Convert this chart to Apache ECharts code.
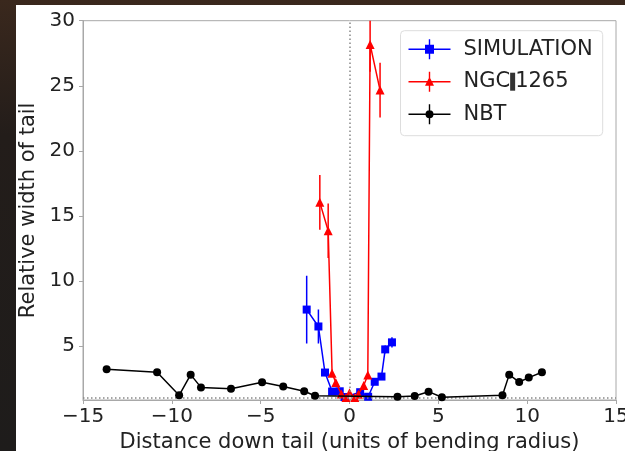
<!DOCTYPE html>
<html>
<head>
<meta charset="utf-8">
<script src="https://cdn.jsdelivr.net/npm/echarts@6/dist/echarts.min.js"></script>
<style>
  html, body {
    margin: 0;
    padding: 0;
    width: 625px;
    height: 451px;
    overflow: hidden;
    background: linear-gradient(180deg, #3a281d 0%, #231d1a 30%, #1e1c1b 100%);
  }
  #chart {
    position: absolute;
    left: 16px;
    top: 5px;
    width: 609px;
    height: 446px;
    background: #fff;
  }
</style>
</head>
<body>
<div id="chart"></div>
<script>
// values
const simX = [-2.41, -1.75, -1.38, -0.98, -0.55, -0.28, 0.6, 1.05, 1.42, 1.8, 2.01, 2.39]
const simY = [7.8, 6.5, 2.96, 1.5, 1.52, 1.08, 1.45, 1.1, 2.25, 2.65, 4.74, 5.28]
const simErr = [2.6, 1.3, 0.2, 0.1, 0.1, 0.1, 0.1, 0.1, 0.2, 0.2, 0.3, 0.4]

const ngcX = [-1.67, -1.2, -0.98, -0.77, -0.46, -0.2, 0, 0.3, 0.5, 0.8, 1.03, 1.16, 1.72]
const ngcY = [16.04, 13.86, 2.9, 2.2, 1.32, 1.05, 1.4, 1.05, 1.3, 1.97, 2.77, 28.18, 24.67]
const ngcErr = [2.1, 2.1, 0.1, 0.1, 0.1, 0.1, 0.1, 0.1, 0.1, 0.1, 0.1, 2.1, 2.1]

const nbtX = [-13.67, -10.83, -9.59, -8.94, -8.36, -6.67, -4.92, -3.73, -2.55, -1.94, 2.7, 3.67, 4.45, 5.2, 8.61, 8.99, 9.55, 10.09, 10.83]
const nbtY = [3.21, 2.98, 1.21, 2.8, 1.82, 1.72, 2.21, 1.88, 1.52, 1.18, 1.1, 1.16, 1.49, 1.06, 1.21, 2.8, 2.23, 2.57, 2.98]
const nbtErr = [0.1, 0.1, 0.1, 0.1, 0.1, 0.1, 0.1, 0.1, 0.1, 0.1, 0.1, 0.1, 0.1, 0.1, 0.1, 0.1, 0.1, 0.1, 0.1]

const yTicks = [5, 10, 15, 20, 25, 30]

const FONT = "'DejaVu Sans', sans-serif"
const TEXT = '#222'
const SPINE = '#a8a8a8'

// legend icons: line + error bar + marker, in a 42x20 box
const bar = 'M0,9.25 L42,9.25 L42,10.75 L0,10.75 Z M20.3,0 L21.7,0 L21.7,20 L20.3,20 Z '
const iconSquare = 'path://' + bar + 'M16.5,5.5 L25.5,5.5 L25.5,14.5 L16.5,14.5 Z'
const iconTri = 'path://' + bar + 'M21,5 L25.5,14 L16.5,14 Z'
const iconCircle = 'path://' + bar + 'M17,10 A4,4 0 1,1 25,10 A4,4 0 1,1 17,10 Z'

function pts (xs, ys) {
  return xs.map((x, i) => [x, ys[i]])
}
function errs (xs, ys, es) {
  return xs.map((x, i) => [x, ys[i] - es[i], ys[i] + es[i]])
}
function minus (v) {
  return v < 0 ? '\u2212' + Math.abs(v) : String(v)
}

function errSeries (name, color, data, z) {
  return {
    name: name,
    type: 'custom',
    clip: true,
    z: z,
    silent: true,
    encode: { x: 0, y: [1, 2] },
    renderItem: function (params, api) {
      const x = api.value(0)
      const p1 = api.coord([x, api.value(1)])
      const p2 = api.coord([x, api.value(2)])
      return {
        type: 'line',
        shape: { x1: p1[0], y1: p1[1], x2: p2[0], y2: p2[1] },
        style: { stroke: color, lineWidth: 1.5 }
      }
    },
    data: data
  }
}

function lineSeries (name, color, symbol, size, data, z) {
  return {
    name: name,
    type: 'line',
    z: z,
    data: data,
    symbol: symbol,
    symbolSize: size,
    showAllSymbol: true,
    clip: true,
    lineStyle: { color: color, width: 1.5 },
    itemStyle: { color: color, borderWidth: 0 }
  }
}

const chart = echarts.init(document.getElementById('chart'))

const nbt = lineSeries('NBT', '#000', 'circle', 8, pts(nbtX, nbtY), 6)
nbt.markLine = {
  silent: true,
  symbol: ['none', 'none'],
  label: { show: false },
  lineStyle: { type: [1.5, 2.5], color: '#888', width: 1.5 },
  data: [{ xAxis: 0 }, { yAxis: 1 }]
}

chart.setOption({
  animation: false,
  textStyle: { fontFamily: FONT },
  grid: {
    left: 67,
    top: 15.7,
    right: 9,
    bottom: 51,
    outerBoundsMode: 'none',
    containLabel: false,
    show: true,
    borderColor: SPINE,
    borderWidth: 1,
    backgroundColor: 'transparent'
  },
  legend: {
    orient: 'vertical',
    left: 384.5,
    top: 25.7,
    padding: [8, 10, 11, 8],
    itemWidth: 42,
    itemHeight: 20,
    itemGap: 11.5,
    backgroundColor: '#fff',
    borderColor: '#ddd',
    borderWidth: 1,
    borderRadius: 4,
    selectedMode: false,
    textStyle: {
      fontFamily: FONT,
      fontSize: 21,
      color: TEXT,
      padding: [0, 0, 0, 8],
      rich: {
        bar: { backgroundColor: '#333', width: 5, height: 18, fontSize: 21 }
      }
    },
    formatter: function (name) {
      return name === 'NGC 1265' ? 'NGC{bar| }1265' : name
    },
    data: [
      { name: 'SIMULATION', icon: iconSquare },
      { name: 'NGC 1265', icon: iconTri },
      { name: 'NBT', icon: iconCircle }
    ]
  },
  xAxis: {
    type: 'value',
    min: -15,
    max: 15,
    interval: 5,
    name: 'Distance down tail (units of bending radius)',
    nameLocation: 'middle',
    nameGap: 28,
    nameTextStyle: { fontFamily: FONT, fontSize: 21, color: TEXT },
    axisLine: { show: true, onZero: false, lineStyle: { color: SPINE, width: 1 } },
    axisTick: { show: true, length: 4, lineStyle: { color: SPINE } },
    axisLabel: { margin: 7, fontFamily: FONT, fontSize: 20, color: TEXT, formatter: minus },
    splitLine: { show: false }
  },
  yAxis: {
    type: 'value',
    min: 0.85,
    max: 30,
    name: 'Relative width of tail',
    nameLocation: 'middle',
    nameGap: 44,
    nameTextStyle: { fontFamily: FONT, fontSize: 21, color: TEXT },
    axisLine: { show: true, onZero: false, lineStyle: { color: SPINE, width: 1 } },
    axisTick: { show: true, length: 4, lineStyle: { color: SPINE }, customValues: yTicks },
    axisLabel: { margin: 8, fontFamily: FONT, fontSize: 20, color: TEXT, customValues: yTicks },
    splitLine: { show: false }
  },
  series: [
    errSeries('SIMULATION err', '#0000ff', errs(simX, simY, simErr), 1),
    lineSeries('SIMULATION', '#0000ff', 'rect', 8, pts(simX, simY), 2),
    errSeries('NGC 1265 err', '#ff0000', errs(ngcX, ngcY, ngcErr), 3),
    lineSeries('NGC 1265', '#ff0000', 'triangle', 9, pts(ngcX, ngcY), 4),
    errSeries('NBT err', '#000', errs(nbtX, nbtY, nbtErr), 5),
    nbt
  ]
})
</script>
</body>
</html>
